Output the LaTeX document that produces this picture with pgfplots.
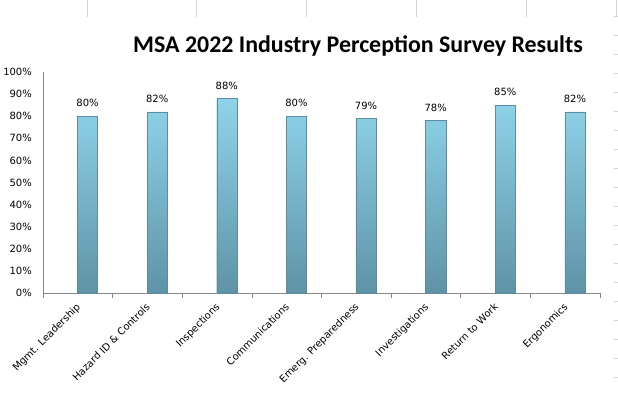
\documentclass[border=0pt]{standalone}
\usepackage{pgfplots}
\pgfplotsset{compat=1.18}
\usepackage{fontspec}
\setmainfont{DejaVu Sans}
\newfontfamily\titlefont{Carlito}
\definecolor{axisgray}{HTML}{868686}
\definecolor{bartop}{HTML}{8FD4EA}
\definecolor{barbot}{HTML}{5F93A7}
\definecolor{baredge}{HTML}{5C8C9E}
\definecolor{cellgray}{HTML}{D4D4D4}
\begin{document}
\begin{tikzpicture}[x=1bp,y=1bp]
\useasboundingbox (0,0) rectangle (618,397);
\fill[white] (0,0) rectangle (618,397);
% spreadsheet cell lines peeking around the chart
\foreach \gx in {87,196,306,416,526,616} \draw[cellgray,line width=0.6bp] (\gx,397) -- (\gx,380);
\foreach \gy in {16,35,54,73,92,111,130,149,168,187,206,225,244,263,282,301,320,339,358,377} \draw[cellgray,line width=0.6bp] (614,397-\gy) -- (618,397-\gy);
\begin{axis}[
  at={(43bp,104bp)}, anchor=south west,
  scale only axis, width=557bp, height=221bp,
  xmin=-0.5, xmax=7.5, ymin=0, ymax=100,
  axis lines*=left,
  axis line style={axisgray, line width=0.75bp},
  ytick={0,10,...,100},
  yticklabel={\pgfmathprintnumber{\tick}\%},
  /pgf/number format/assume math mode=true,
  yticklabel style={font=\fontsize{10}{12}\selectfont, color=black, inner sep=0pt, xshift=-11bp},
  major tick length=0pt,
  xtick={0.14,1.14,2.14,3.14,4.14,5.14,6.14,7.14},
  xticklabels={Mgmt. Leadership, Hazard ID \& Controls, Inspections, Communications, Emerg. Preparedness, Investigations, Return to Work, Ergonomics},
  xticklabel style={font=\fontsize{10}{12}\selectfont, inner sep=0pt, xshift=-12bp, yshift=-9bp, rotate=45, anchor=north east},
  extra x ticks={-0.5,0.5,1.5,2.5,3.5,4.5,5.5,6.5,7.5},
  extra x tick labels={},
  extra x tick style={major tick length=5bp, tick align=outside, tick style={axisgray, line width=0.75bp}},
  tick style={axisgray},
  ybar, bar width=0.29,
  nodes near coords={\pgfmathprintnumber{\pgfplotspointmeta}\%},
  nodes near coords style={font=\fontsize{10}{12}\selectfont, color=black, inner sep=0pt, yshift=9bp},
  clip=false,
]
\addplot[draw=baredge, line width=0.4bp, top color=bartop, bottom color=barbot]
  coordinates {(0.14,80) (1.14,82) (2.14,88) (3.14,80) (4.14,79) (5.14,78) (6.14,85) (7.14,82)};
\end{axis}
\node[font=\titlefont\fontsize{24}{28}\selectfont\bfseries, anchor=base] at (358,345) {MSA 2022 Industry Perception Survey Results};
\end{tikzpicture}
\end{document}
